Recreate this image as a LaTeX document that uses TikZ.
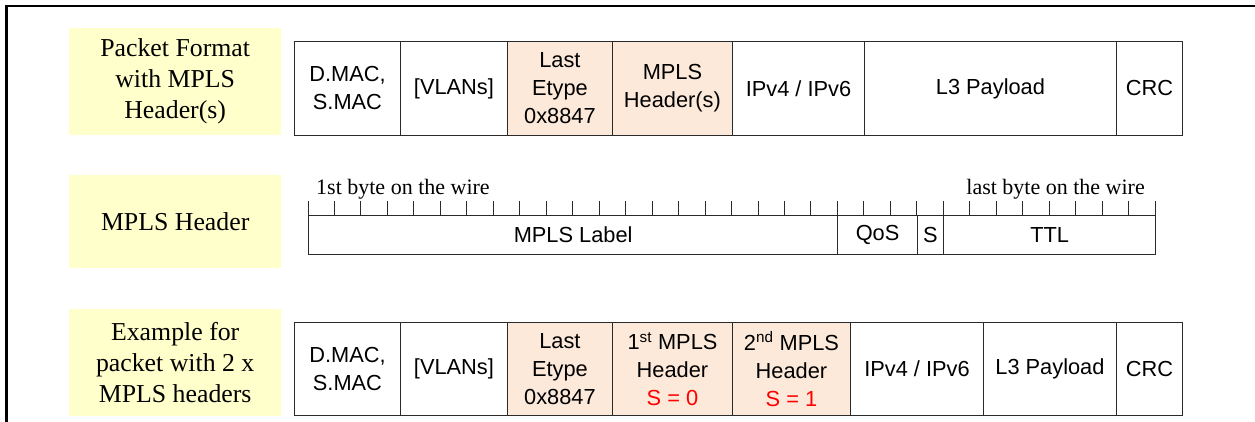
\documentclass[tikz,border=0pt]{standalone}
\usepackage{fontspec}
\setmainfont{Liberation Serif}
\setsansfont{Liberation Sans}
\definecolor{labelyellow}{HTML}{FFFFCC}
\definecolor{peach}{HTML}{FCE9DA}
\definecolor{cellline}{HTML}{2A2A2A}
\begin{document}
\begin{tikzpicture}[x=1pt,y=-1pt,
  cell/.style={draw=cellline, line width=0.9pt, inner sep=0pt, anchor=north west,
    align=center, font=\sffamily\fontsize{21.8}{28}\selectfont},
  hl/.style={fill=peach},
  sidelabel/.style={fill=labelyellow, inner sep=0pt, anchor=north west, align=center,
    minimum width=212, font=\rmfamily\fontsize{25.8}{31}\selectfont},
  wirelabel/.style={inner sep=0pt, font=\rmfamily\fontsize{22}{25}\selectfont},
  tick/.style={draw=cellline, line width=0.9pt},
  frame/.style={line width=2.2pt, line cap=rect}
]
\useasboundingbox (0,0) rectangle (1255,421);
% outer frame (top and left)
\draw[frame] (6.5,421) -- (6.5,6) -- (1255,6);

% side labels
\node[sidelabel, minimum height=107] (lab1) at (69,28) {Packet Format\\with MPLS\\Header(s)};
\node[sidelabel, minimum height=93] (lab2) at (69,175) {MPLS Header};
\node[sidelabel, minimum height=107] (lab3) at (69,309) {Example for\\packet with 2 x\\MPLS headers};

% row 1
\node[cell, minimum width=106, minimum height=94] (a1) at (294,41) {D.MAC,\\S.MAC};
\node[cell, minimum width=107, minimum height=94] (b1) at (400,41) {[VLANs]};
\node[cell, hl, minimum width=105, minimum height=94] (c1) at (507,41) {Last\\Etype\\0x8847};
\node[cell, hl, minimum width=120, minimum height=94] (d1) at (612,41) {MPLS\\Header(s)};
\node[cell, minimum width=132, minimum height=94] (e1) at (732,41) {IPv4 / IPv6};
\node[cell, minimum width=252, minimum height=94] (f1) at (864,41) {L3 Payload};
\node[cell, minimum width=66, minimum height=94] (g1) at (1116,41) {CRC};

% row 2: MPLS header
\foreach \i in {0,...,32}{
  \draw[tick] ({308+\i*26.47},201) -- ({308+\i*26.47},215);
}
\node[cell, minimum width=529.4, minimum height=39] (lbl) at (308,215) {MPLS Label};
\node[cell, minimum width=79.4, minimum height=39] (qos) at (837.4,215) {QoS};
\node[cell, minimum width=26.5, minimum height=39] (sb) at (916.8,215) {S};
\node[cell, minimum width=211.8, minimum height=39] (ttl) at (943.3,215) {TTL};
\node[wirelabel, anchor=base west] (first) at (316,194) {1st byte on the wire};
\node[wirelabel, anchor=base east] (last) at (1145,194) {last byte on the wire};

% row 3
\node[cell, minimum width=106, minimum height=93] (a3) at (294,322) {D.MAC,\\S.MAC};
\node[cell, minimum width=107, minimum height=93] (b3) at (400,322) {[VLANs]};
\node[cell, hl, minimum width=105, minimum height=93] (c3) at (507,322) {Last\\Etype\\0x8847};
\node[cell, hl, minimum width=120, minimum height=93] (d3) at (612,322) {1\textsuperscript{st} MPLS\\Header\\\textcolor{red}{S = 0}};
\node[cell, hl, minimum width=118, minimum height=93] (e3) at (732,322) {2\textsuperscript{nd} MPLS\\Header\\\textcolor{red}{S = 1}};
\node[cell, minimum width=133, minimum height=93] (f3) at (850,322) {IPv4 / IPv6};
\node[cell, minimum width=133, minimum height=93] (g3) at (983,322) {L3 Payload};
\node[cell, minimum width=66, minimum height=93] (h3) at (1116,322) {CRC};
\end{tikzpicture}
\end{document}
